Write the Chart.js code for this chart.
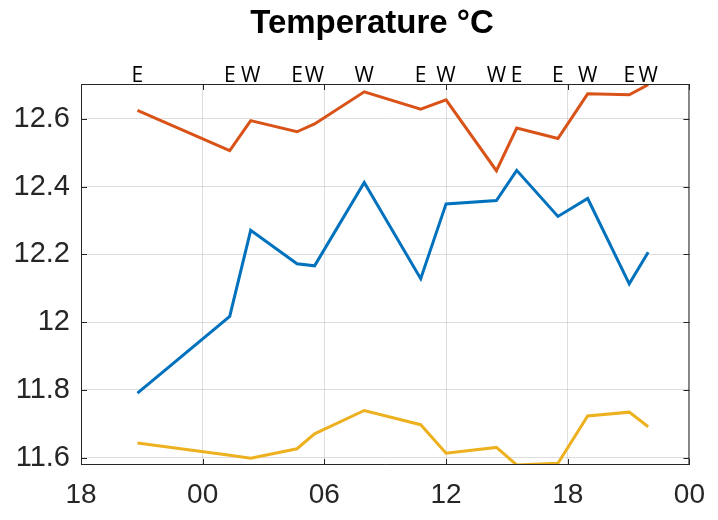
<!DOCTYPE html>
<html>
<head>
<meta charset="utf-8">
<script src="https://cdn.jsdelivr.net/npm/chart.js@4.4.1/dist/chart.umd.min.js"></script>
<style>
  html, body { margin: 0; padding: 0; background: #fff; }
  #wrap { width: 718px; height: 520px; }
</style>
</head>
<body>
<div id="wrap"><canvas id="c" width="718" height="520"></canvas></div>
<script>
// ---- data ----
const titleText = 'Temperature °C';
const startHour = 18; // axis starts at 18:00 on day 0
const times = ['20:47','01:20','02:22','04:39','05:31','07:58','10:45','12:00','14:29','15:29','17:31','18:59','21:02','21:58'];
const dayIndex = [0,1,1,1,1,1,1,1,1,1,1,1,1,1];
const dirLabels = ['E','E','W','E','W','W','E','W','W','E','E','W','E','W'];
const blueValues   = [11.790,12.017,12.271,12.172,12.166,12.412,12.128,12.349,12.359,12.448,12.312,12.365,12.113,12.206];
const redValues    = [12.625,12.506,12.595,12.562,12.585,12.680,12.629,12.656,12.447,12.573,12.542,12.674,12.671,12.701];
const yellowValues = [11.643,11.607,11.598,11.626,11.670,11.739,11.697,11.613,11.630,11.578,11.583,11.723,11.734,11.691];
const xTickValues = [0,6,12,18,24,30];
const xTickLabels = ['18','00','06','12','18','00'];
const yTickValues = [11.6,11.8,12.0,12.2,12.4,12.6];
const yTickLabels = ['11.6','11.8','12','12.2','12.4','12.6'];
const yMin = 11.578, yMax = 12.703;

// hours since axis start
const hours = times.map((t, i) => {
  const [h, m] = t.split(':').map(Number);
  return dayIndex[i] * 24 + h + m / 60 - startHour;
});
const mk = vals => vals.map((v, i) => ({ x: hours[i], y: v }));

Chart.defaults.font.family = '"Liberation Sans", Arial, Helvetica, sans-serif';
Chart.defaults.color = '#262626';

const boxPlugin = {
  id: 'boxPlugin',
  afterDraw(chart) {
    const { ctx, chartArea: a, scales } = chart;
    ctx.save();
    ctx.strokeStyle = '#262626';
    ctx.lineWidth = 1;
    ctx.beginPath();
    ctx.rect(a.left + 0.5, a.top + 0.5, a.right - a.left - 1, a.bottom - a.top - 1);
    ctx.stroke();
    const tl = 6;
    ctx.beginPath();
    yTickValues.forEach(v => {
      const y = Math.round(scales.y.getPixelForValue(v)) + 0.5;
      ctx.moveTo(a.left, y); ctx.lineTo(a.left + tl, y);
      ctx.moveTo(a.right, y); ctx.lineTo(a.right - tl, y);
    });
    xTickValues.forEach(v => {
      const x = Math.round(scales.x.getPixelForValue(v)) + 0.5;
      ctx.moveTo(x, a.bottom); ctx.lineTo(x, a.bottom - tl);
      ctx.moveTo(x, a.top); ctx.lineTo(x, a.top + tl);
    });
    ctx.stroke();
    // direction labels above the plot
    ctx.fillStyle = '#000';
    ctx.font = '21px "Open Sans", "DejaVu Sans", sans-serif';
    ctx.textAlign = 'center';
    ctx.textBaseline = 'alphabetic';
    dirLabels.forEach((l, i) => {
      ctx.fillText(l, scales.x.getPixelForValue(hours[i]), 82);
    });
    // title
    ctx.font = 'bold 33px "Liberation Sans", Arial, sans-serif';
    ctx.fillText(titleText, 372, 33);
    ctx.restore();
  }
};

new Chart(document.getElementById('c'), {
  type: 'line',
  data: {
    datasets: [
      { data: mk(redValues), borderColor: '#D95319', borderWidth: 3, pointRadius: 0, tension: 0 },
      { data: mk(blueValues), borderColor: '#0072BD', borderWidth: 3, pointRadius: 0, tension: 0 },
      { data: mk(yellowValues), borderColor: '#EDB120', borderWidth: 3, pointRadius: 0, tension: 0 }
    ]
  },
  options: {
    responsive: false,
    animation: false,
    layout: { padding: { top: 84, right: 25, left: 0, bottom: 0 } },
    plugins: { legend: { display: false }, tooltip: { enabled: false }, title: { display: false } },
    scales: {
      x: {
        type: 'linear', min: 0, max: 30,
        afterBuildTicks: s => { s.ticks = xTickValues.map(v => ({ value: v })); },
        afterFit: s => { s.height = 55; },
        ticks: {
          callback: (v) => { const i = xTickValues.indexOf(v); return i >= 0 ? xTickLabels[i] : ''; },
          font: { size: 28 }, padding: 13, maxRotation: 0, autoSkip: false, color: '#262626'
        },
        grid: { color: 'rgba(0,0,0,0.13)', drawTicks: false, lineWidth: 1 },
        border: { display: false }
      },
      y: {
        type: 'linear', min: yMin, max: yMax,
        afterBuildTicks: s => { s.ticks = yTickValues.map(v => ({ value: v })); },
        afterFit: s => { s.width = 81; },
        ticks: {
          callback: (v) => { const i = yTickValues.findIndex(t => Math.abs(t - v) < 1e-6); return i >= 0 ? yTickLabels[i] : ''; },
          font: { size: 29 }, padding: 11, autoSkip: false, color: '#262626'
        },
        grid: { color: 'rgba(0,0,0,0.13)', drawTicks: false, lineWidth: 1 },
        border: { display: false }
      }
    }
  },
  plugins: [boxPlugin]
});
</script>
</body>
</html>
